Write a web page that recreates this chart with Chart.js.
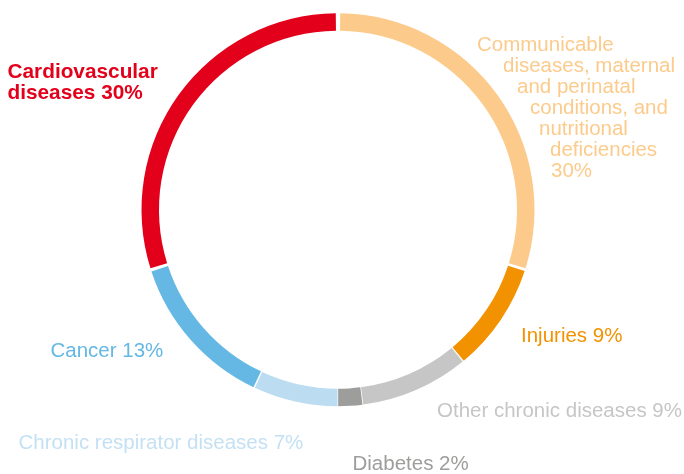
<!DOCTYPE html>
<html>
<head>
  <meta charset="UTF-8">
  <title>Causes of death</title>
  <script src="https://cdn.jsdelivr.net/npm/chart.js"></script>
  <style>
    html, body { margin: 0; padding: 0; background: #fff; }
    #wrap { width: 684px; height: 474px; }
  </style>
</head>
<body>
  <div id="wrap"><canvas id="donut" width="684" height="474"></canvas></div>

  <script>
    // data, clockwise from 12 o'clock
    const categories = [
      'Communicable diseases, maternal and perinatal conditions, and nutritional deficiencies',
      'Injuries',
      'Other chronic diseases',
      'Diabetes',
      'Chronic respirator diseases',
      'Cancer',
      'Cardiovascular diseases'
    ];
    const shares = [30, 9, 9, 2, 7, 13, 30];
    const colors = ['#fccb8c', '#f39200', '#c6c6c6', '#9d9d9c', '#bcdcf1', '#64b8e3', '#e3001b'];
    const textColors = ['#fccb8c', '#f39200', '#c6c6c6', '#9d9d9c', '#c4e1f4', '#64b8e3', '#e3001b'];

    // label text as it is broken in the picture
    const labelLines = [
      ['Communicable', 'diseases, maternal', 'and perinatal', 'conditions, and', 'nutritional', 'deficiencies', '30%'],
      ['Injuries 9%'],
      ['Other chronic diseases 9%'],
      ['Diabetes 2%'],
      ['Chronic respirator diseases 7%'],
      ['Cancer 13%'],
      ['Cardiovascular', 'diseases 30%']
    ];
    // layout for each label: x of every line, first baseline, line step
    const labelPos = [
      { xs: [477, 503, 517, 530, 539, 550, 551], y: 50.5, step: 21 },
      { xs: [521], y: 341.5, step: 0 },
      { xs: [437], y: 417, step: 0 },
      { xs: [352.5], y: 470, step: 0 },
      { xs: [18.5], y: 449, step: 0 },
      { xs: [50.5], y: 356.5, step: 0 },
      { xs: [7.5, 7.5], y: 77.5, step: 21 }
    ];

    const labelPlugin = {
      id: 'sideLabels',
      afterDraw(chart) {
        const ctx = chart.ctx;
        ctx.save();
        ctx.textBaseline = 'alphabetic';
        ctx.textAlign = 'left';
        labelLines.forEach((lines, i) => {
          const p = labelPos[i];
          const bold = i === 6;
          ctx.font = (bold ? 'bold 20.8px' : '20.5px') + ' "Liberation Sans", Arial, sans-serif';
          ctx.fillStyle = textColors[i];
          lines.forEach((t, k) => {
            ctx.fillText(t, p.xs[k], p.y + k * p.step);
          });
        });
        ctx.restore();
      }
    };

    new Chart(document.getElementById('donut'), {
      type: 'doughnut',
      data: {
        labels: categories,
        datasets: [{
          data: shares,
          backgroundColor: colors,
          borderWidth: 0,
          spacing: 4.5
        }]
      },
      options: {
        responsive: false,
        animation: false,
        cutout: '91%',
        layout: { padding: { top: 13, bottom: 67.5, left: 141.5, right: 149.5 } },
        plugins: {
          legend: { display: false },
          tooltip: { enabled: false }
        }
      },
      plugins: [labelPlugin]
    });
  </script>
</body>
</html>
